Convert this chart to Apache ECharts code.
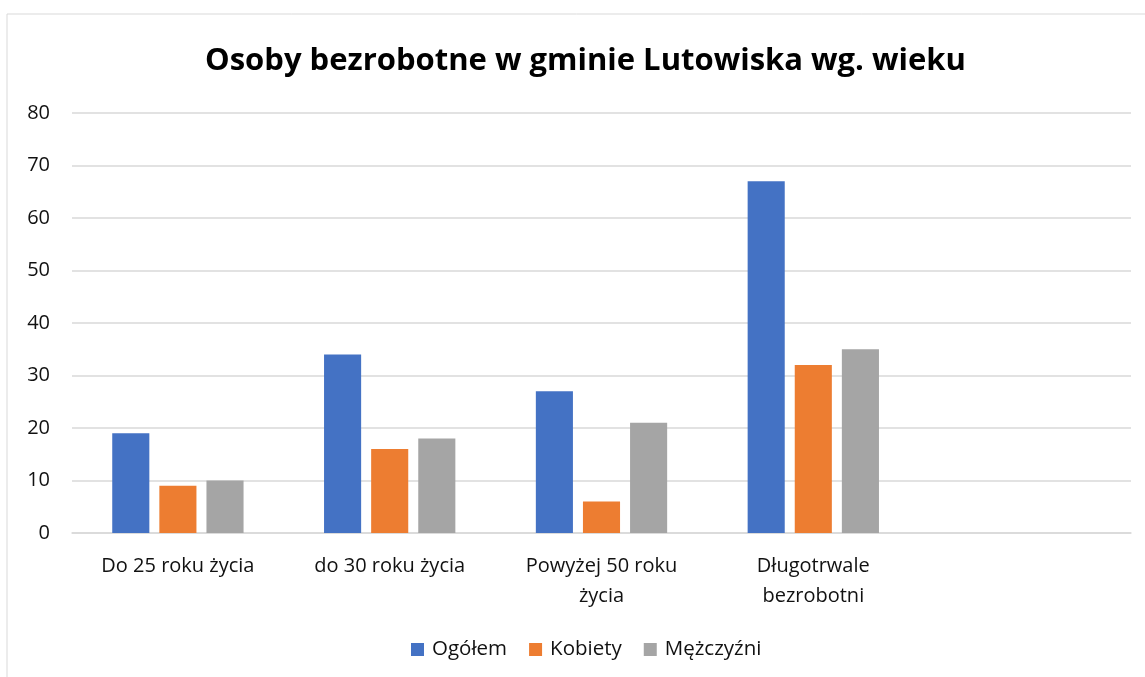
<!DOCTYPE html>
<html>
<head>
<meta charset="utf-8">
<script src="https://cdn.jsdelivr.net/npm/echarts@6/dist/echarts.min.js"></script>
<style>
  html, body { margin: 0; padding: 0; background: #fff; }
  #chart { width: 1145px; height: 677px; }
</style>
</head>
<body>
<div id="chart"></div>
<script>
// categories (the 5th slot is empty in the source chart)
var categories = ['Do 25 roku życia', 'do 30 roku życia', 'Powyżej 50 roku\nżycia', 'Długotrwale\nbezrobotni', ''];
var ogolem = [19, 34, 27, 67, '-'];
var kobiety = [9, 16, 6, 32, '-'];
var mezczyzni = [10, 18, 21, 35, '-'];
var yTicks = [0, 10, 20, 30, 40, 50, 60, 70, 80];

var font = 'Open Sans';
var chart = echarts.init(document.getElementById('chart'));

function bar(name, data, color) {
  return {
    name: name,
    type: 'bar',
    data: data,
    barGap: '27%',
    barCategoryGap: '38%',
    itemStyle: { color: color }
  };
}

chart.setOption({
  animation: false,
  textStyle: { fontFamily: font },
  graphic: [{
    type: 'rect',
    shape: { x: 7, y: 14, width: 1200, height: 700 },
    style: { fill: 'none', stroke: '#d9d9d9', lineWidth: 1 },
    silent: true
  }],
  title: {
    text: 'Osoby bezrobotne w gminie Lutowiska wg. wieku',
    left: 200,
    top: 41,
    textStyle: { fontFamily: font, fontWeight: 'bold', fontSize: 31, color: '#000' }
  },
  legend: {
    bottom: 17,
    left: 411,
    padding: 0,
    itemWidth: 13,
    itemHeight: 13,
    itemGap: 22,
    icon: 'rect',
    textStyle: { fontFamily: font, fontSize: 20.5, color: '#111', padding: [0, 0, 0, 3] },
    data: ['Ogółem', 'Kobiety', 'Mężczyźni']
  },
  grid: { left: 72, right: 14, top: 113, bottom: 144 },
  xAxis: {
    type: 'category',
    data: categories,
    axisLine: { lineStyle: { color: '#d9d9d9', width: 1.5 } },
    axisTick: { show: false },
    axisLabel: { fontSize: 20, color: '#111', margin: 18, lineHeight: 30, interval: 0 }
  },
  yAxis: {
    type: 'value',
    min: yTicks[0],
    max: yTicks[yTicks.length - 1],
    interval: 10,
    axisLine: { show: false },
    axisTick: { show: false },
    splitLine: { lineStyle: { color: '#d9d9d9', width: 1.5 } },
    axisLabel: { fontSize: 20, color: '#111', margin: 22 }
  },
  series: [
    bar('Ogółem', ogolem, '#4472c4'),
    bar('Kobiety', kobiety, '#ed7d31'),
    bar('Mężczyźni', mezczyzni, '#a5a5a5')
  ]
});
</script>
</body>
</html>
